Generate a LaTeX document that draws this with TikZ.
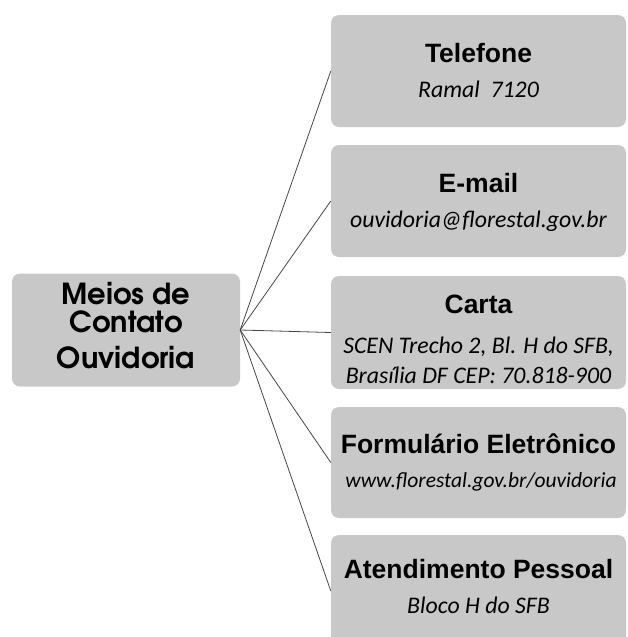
\documentclass[tikz,border=0pt]{standalone}
\usepackage{fontspec}
\setmainfont{Liberation Sans}
\newfontfamily\hubfont{texgyreadventor-bold.otf}
\newfontfamily\subfont{Carlito}
\definecolor{boxgray}{RGB}{200,200,200}
\definecolor{linegray}{RGB}{70,70,70}

\begin{document}
\begin{tikzpicture}[x=1pt, y=-1pt,
		hubbox/.style={draw=none, fill=boxgray, rounded corners=8pt, minimum width=228pt, minimum height=113pt, inner sep=0pt},
		itembox/.style={draw=none, fill=boxgray, rounded corners=8pt, minimum width=295pt, minimum height=112pt, inner sep=0pt},
		hubtext/.style={anchor=base, inner sep=0pt, font=\hubfont\fontsize{29}{34}\selectfont},
		headtext/.style={anchor=base, inner sep=0pt, font=\bfseries\fontsize{26.5}{31}\selectfont},
		subtext/.style={anchor=base, inner sep=0pt, font=\subfont\itshape\fontsize{23.8}{28}\selectfont},
		link/.style={draw=linegray, line width=.8pt}]
				\useasboundingbox (0,0) rectangle (627,637);
				\clip (0,0) rectangle (627,637);
				% left box
				\node[hubbox] (hub) at (126,330) {};
				\node[hubtext] (meios) at (126,304) {Meios de};
				\node[hubtext] (contato) at (126,332) {Contato};
				\node[hubtext] (ouvidoria) at (126,368) {Ouvidoria};
				% right boxes
				\node[itembox] (tel) at (478.5,71) {};
				\node[itembox] (mail) at (478.5,201) {};
				\node[itembox, minimum height=113pt] (carta) at (478.5,332.5) {};
				\node[itembox, minimum height=111pt] (form) at (478.5,462.5) {};
				\node[itembox] (pessoal) at (478.5,591) {};
				\node[headtext] (telhead) at (478.5,62) {Telefone};
				\node[subtext] (telsub) at (478.5,97) {Ramal~ 7120};
				\node[headtext] (mailhead) at (478.5,192) {E-mail};
				\node[subtext] (mailsub) at (478.5,227) {ouvidoria@florestal.gov.br};
				\node[headtext] (cartahead) at (478.5,313) {Carta};
				\node[subtext] (cartasub) at (478.5,353) {SCEN Trecho 2, Bl. H do SFB,};
				\node[subtext] (cartasubb) at (478.5,383) {Brasília DF CEP: 70.818-900};
				\node[headtext] (formhead) at (478.5,453) {Formulário Eletrônico};
				\node[subtext, font=\subfont\itshape\fontsize{21.5}{26}\selectfont] (formsub) at (481,487) {www.florestal.gov.br/ouvidoria};
				\node[headtext] (pessoalhead) at (478.5,578) {Atendimento Pessoal};
				\node[subtext] (pessoalsub) at (478.5,613) {Bloco H do SFB};
				% connectors
				\foreach \b in {tel,mail,carta,form,pessoal} {
					\draw[link] (hub.east) -- (\b.west);
				}
\end{tikzpicture}
\end{document}
